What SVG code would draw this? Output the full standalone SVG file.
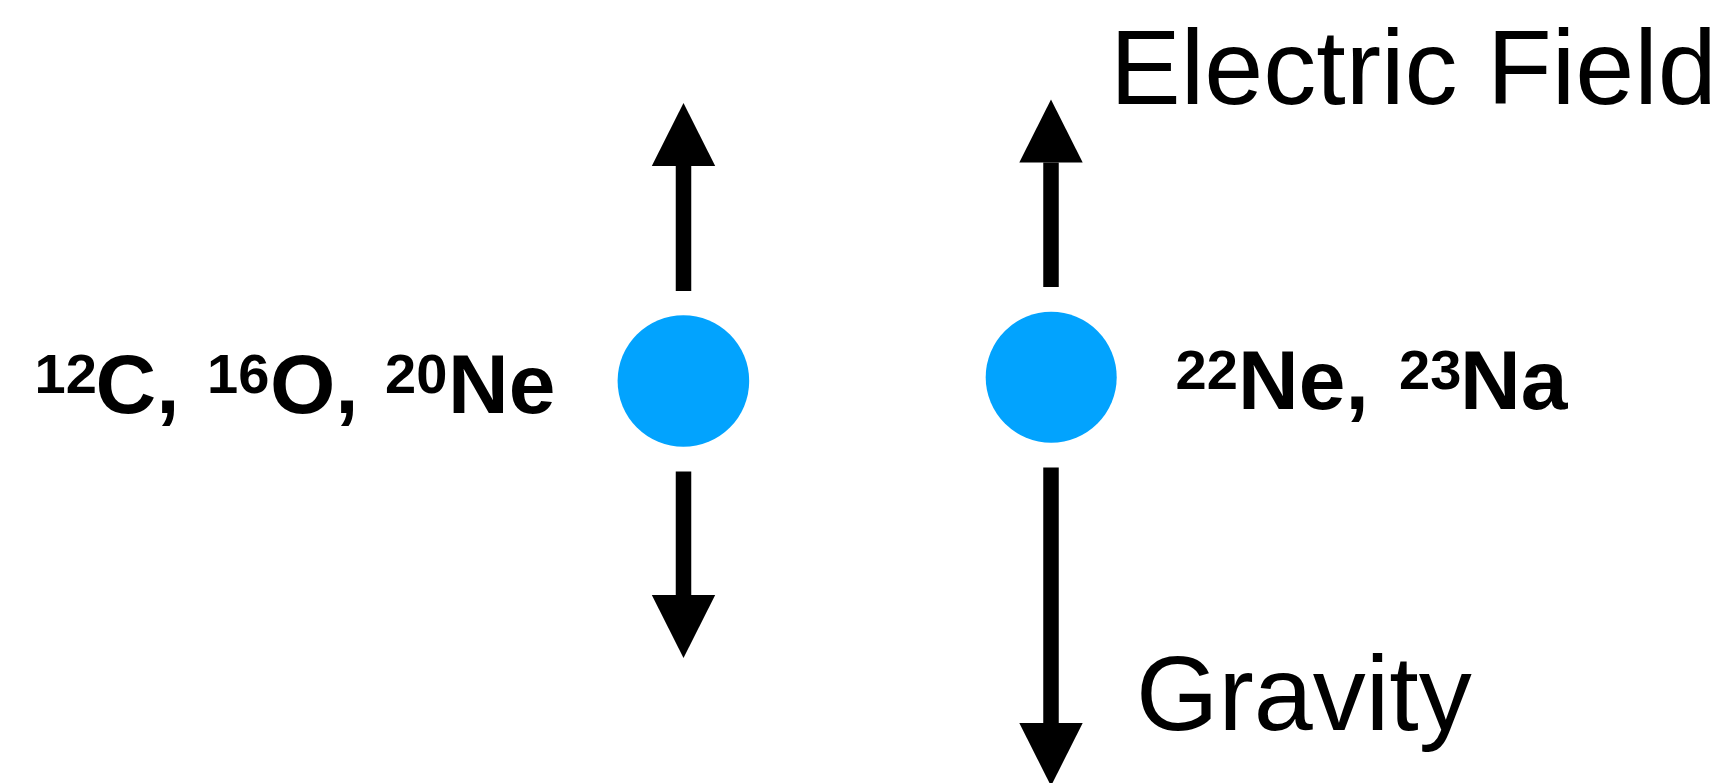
<svg xmlns="http://www.w3.org/2000/svg" width="1731" height="783" viewBox="0 0 1731 783">
  <style>
    .lbl { font-family: "Liberation Sans", Arial, Helvetica, sans-serif; fill: #000; }
    .big { font-size: 106px; }
    .iso { font-size: 84px; font-weight: bold; }
    .sup { font-size: 56px; font-weight: bold; }
    .particle { fill: #02A3FE; }
    .force { stroke: #000; stroke-width: 15.5; fill: none; marker-end: url(#head); }
  </style>
  <defs>
    <marker id="head" markerUnits="userSpaceOnUse" markerWidth="64" markerHeight="64" refX="0" refY="31.7" orient="auto" overflow="visible">
      <path d="M0,0 L63,31.7 L0,63.4 Z" fill="#000"/>
    </marker>
  </defs>
  <rect width="1731" height="783" fill="#fff"/>

  <g id="connectors">
    <line class="force" x1="683.5" y1="291" x2="683.5" y2="166"/>
    <line class="force" x1="683.5" y1="471.5" x2="683.5" y2="595"/>
    <line class="force" x1="1051" y1="287" x2="1051" y2="162.5"/>
    <line class="force" x1="1051" y1="467.5" x2="1051" y2="723"/>
  </g>

  <g id="particle-left">
    <circle class="particle" cx="683.4" cy="381" r="65.8"/>
  </g>
  <g id="particle-right">
    <circle class="particle" cx="1051.2" cy="377.2" r="65.5"/>
  </g>

  <g id="label-left">
    <text class="lbl"><tspan class="sup" x="34.5" y="393">12</tspan><tspan class="iso" x="95.5" y="413">C,</tspan><tspan class="sup" x="207" y="393">16</tspan><tspan class="iso" x="270" y="413">O,</tspan><tspan class="sup" x="385" y="393">20</tspan><tspan class="iso" x="448" y="413">Ne</tspan></text>
  </g>
  <g id="label-right">
    <text class="lbl"><tspan class="sup" x="1175.5" y="389">22</tspan><tspan class="iso" x="1238" y="409">Ne,</tspan><tspan class="sup" x="1399" y="389">23</tspan><tspan class="iso" x="1460" y="409">Na</tspan></text>
  </g>
  <g id="label-electric-field">
    <text class="lbl big" x="1110" y="104">Electric Field</text>
  </g>
  <g id="label-gravity">
    <text class="lbl big" x="1136" y="729.5">Gravity</text>
  </g>
</svg>
